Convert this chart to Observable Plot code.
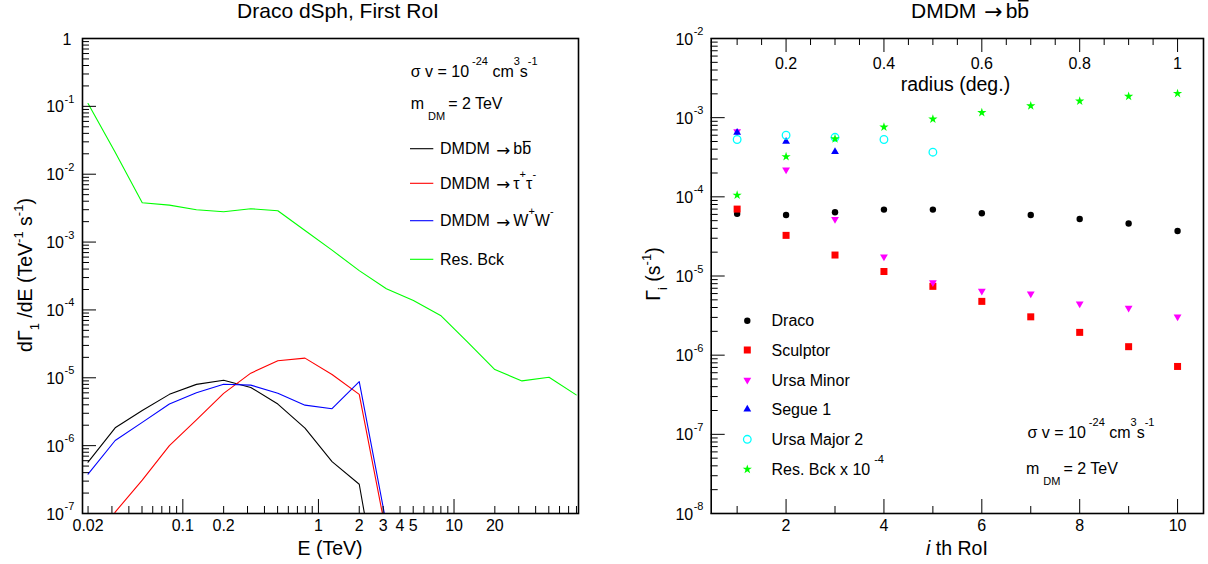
<!DOCTYPE html>
<html>
<head>
<meta charset="utf-8">
<script src="https://cdn.jsdelivr.net/npm/d3@7"></script>
<script src="https://cdn.jsdelivr.net/npm/@observablehq/plot@0.6"></script>
<style>
  html, body { margin: 0; padding: 0; background: white; }
  #page { position: relative; width: 1208px; height: 564px; overflow: hidden; background: white; }
  #L { position: absolute; left: 0; top: 0; }
  #R { position: absolute; left: 604px; top: 0; }
  text { white-space: pre; }
</style>
</head>
<body>
<div id="page"><div id="L"></div><div id="R"></div></div>
<script>
// ---------------- DATA ----------------
// Left panel: energy bins (TeV) and differential rates dGamma_1/dE (TeV^-1 s^-1)
const energy = [0.02, 0.0317, 0.0502, 0.0796, 0.126, 0.2, 0.317, 0.502, 0.796, 1.26, 2.0, 3.17, 5.02, 7.96, 12.6, 20.0, 31.7, 50.2, 79.6];
const bbFlux     = [5.7e-7, 1.83e-6, 3.3e-6, 5.7e-6, 8.0e-6, 9.2e-6, 7.2e-6, 4.1e-6, 1.81e-6, 5.8e-7, 2.7e-7, 1.5e-9];
const tautauFlux = [1.0e-8, 1.05e-7, 3.1e-7, 1.0e-6, 2.4e-6, 5.9e-6, 1.17e-5, 1.78e-5, 1.95e-5, 1.12e-5, 5.7e-6, 5.0e-8];
const wwFlux     = [3.8e-7, 1.19e-6, 2.2e-6, 4.1e-6, 6.0e-6, 8.05e-6, 7.8e-6, 5.9e-6, 3.95e-6, 3.5e-6, 8.8e-6, 7.0e-8];
const bckFlux    = [0.11, 0.021, 0.0038, 0.0035, 0.0030, 0.0028, 0.0031, 0.0029, 0.00148, 0.00076, 0.00038, 0.000205, 0.000138, 8.3e-5, 3.35e-5, 1.32e-5, 9.0e-6, 1.02e-5, 5.6e-6];

// Right panel: i-th RoI and rates Gamma_i (s^-1)
const roi        = [1, 2, 3, 4, 5, 6, 7, 8, 9, 10];
const draco      = [6.1e-5, 5.9e-5, 6.4e-5, 6.9e-5, 6.9e-5, 6.2e-5, 5.9e-5, 5.25e-5, 4.6e-5, 3.7e-5];
const sculptor   = [7.0e-5, 3.26e-5, 1.84e-5, 1.14e-5, 7.4e-6, 4.78e-6, 3.05e-6, 1.94e-6, 1.28e-6, 7.2e-7];
const ursaMinor  = [6.7e-4, 2.2e-4, 5.2e-5, 1.75e-5, 8.3e-6, 6.45e-6, 5.97e-6, 4.47e-6, 3.93e-6, 3.05e-6];
const segue1     = [6.5e-4, 5.0e-4, 3.7e-4];
const ursaMajor2 = [5.3e-4, 6.0e-4, 5.65e-4, 5.3e-4, 3.66e-4];
const resBck     = [1.05e-4, 3.22e-4, 5.4e-4, 7.6e-4, 9.6e-4, 1.16e-3, 1.41e-3, 1.62e-3, 1.86e-3, 2.02e-3];

// Tick labels
const eTickValues  = [0.02, 0.1, 0.2, 1, 2, 3, 4, 5, 10, 20];
const eTickLabels  = ["0.02", "0.1", "0.2", "1", "2", "3", "4", "5", "10", "20"];
const fluxExps     = [-7, -6, -5, -4, -3, -2, -1];
const rateExps     = [-8, -7, -6, -5, -4, -3, -2];
const roiTicks     = [2, 4, 6, 8, 10];
const radiusLabels = ["0.2", "0.4", "0.6", "0.8", "1"];

// ---------------- HELPERS ----------------
const FONT = "'Liberation Sans', Arial, Helvetica, sans-serif";
const C = {black: "#000000", red: "#ff0000", blue: "#0000ff", green: "#00ff00", magenta: "#ff00ff", cyan: "#00ffff"};

function minorLog(e0, e1) {
  const out = [];
  for (let e = e0; e < e1; e++) for (let k = 2; k <= 9; k++) out.push(k * Math.pow(10, e));
  return out;
}
const triDown = {
  draw(ctx, size) {
    const s3 = Math.sqrt(3);
    const y = -Math.sqrt(size / (s3 * 3));
    ctx.moveTo(0, -y * 2);
    ctx.lineTo(-s3 * y, y);
    ctx.lineTo(s3 * y, y);
    ctx.closePath();
  }
};

// rich text: parts [{t, sup, sub, over, italic, dx, arrow}]
function rich(g, x, y, parts, o = {}) {
  const size = o.size || 16, small = o.small || 11;
  const supShift = o.supShift || 12, subShift = o.subShift || 11;
  const t = g.append("text").attr("x", x).attr("y", y)
    .attr("font-size", size).attr("text-anchor", o.anchor || "start")
    .attr("fill", "black").attr("font-family", FONT);
  if (o.rotate) t.attr("transform", `rotate(-90 ${x} ${y})`);
  let cur = 0;
  const overs = [];
  for (const p of parts) {
    let target = p.sup ? -supShift : p.sub ? subShift : 0;
    if (p.arrow) target = size * 0.08;
    const s = t.append("tspan").text(p.t);
    if (target !== cur) s.attr("dy", target - cur);
    cur = target;
    if (p.sup || p.sub) s.attr("font-size", small);
    if (p.arrow) s.attr("font-family", "'DejaVu Sans', sans-serif").attr("font-size", size * 1.05);
    if (p.dx) s.attr("dx", p.dx);
    if (p.italic) s.attr("font-style", "italic");
    if (p.over) overs.push(s);
  }
  for (const s of overs) {
    const b = s.node().getBBox();
    const ly = y - size * 0.8;
    g.append("line").attr("x1", b.x + 0.5).attr("x2", b.x + b.width - 0.5)
      .attr("y1", ly).attr("y2", ly).attr("stroke", "black").attr("stroke-width", size / 14);
  }
  return t;
}

// ---------------- LEFT PANEL ----------------
const LW = 604, LH = 564, LML = 82, LMR = 26, LMT = 38, LMB = 51;
const LFW = LW - LML - LMR, LFH = LH - LMT - LMB;
const leftRows = energy.map((e, i) => ({e, bb: bbFlux[i], tt: tautauFlux[i], ww: wwFlux[i], bck: bckFlux[i]}));
const eMinor = [0.02,0.03,0.04,0.05,0.06,0.07,0.08,0.09, 0.2,0.3,0.4,0.5,0.6,0.7,0.8,0.9, 2,3,4,5,6,7,8,9, 20,30,40,50,60,70,80];
const eMajor = [0.1, 1, 10];
const fluxMajor = fluxExps.map(e => Math.pow(10, e));

const left = Plot.plot({
  width: LW, height: LH, marginLeft: LML, marginRight: LMR, marginTop: LMT, marginBottom: LMB,
  style: {fontFamily: FONT, fontSize: "16px", background: "white", color: "black", overflow: "visible"},
  x: {type: "log", domain: [0.0182, 82.8], axis: null},
  y: {type: "log", domain: [1e-7, 1], axis: null},
  marks: [
    Plot.line(leftRows, {x: "e", y: "bck", stroke: C.green, strokeWidth: 1.1, clip: true}),
    Plot.line(leftRows, {x: "e", y: "bb", stroke: C.black, strokeWidth: 1.1, clip: true}),
    Plot.line(leftRows, {x: "e", y: "tt", stroke: C.red, strokeWidth: 1.1, clip: true}),
    Plot.line(leftRows, {x: "e", y: "ww", stroke: C.blue, strokeWidth: 1.1, clip: true}),
    // ticks
    Plot.ruleY(minorLog(-7, 0), {insetRight: LFW - 7, stroke: "black", strokeWidth: 1}),
    Plot.ruleY(fluxMajor, {insetRight: LFW - 14, stroke: "black", strokeWidth: 1}),
    Plot.ruleX(eMinor, {insetTop: LFH - 7, stroke: "black", strokeWidth: 1}),
    Plot.ruleX(eMajor, {insetTop: LFH - 14, stroke: "black", strokeWidth: 1}),
    Plot.frame({stroke: "black", strokeWidth: 1.6}),
    // tick labels
    Plot.text(eTickValues, {x: d => d, text: (d, i) => eTickLabels[i], frameAnchor: "bottom", lineAnchor: "middle", dy: 12, fontSize: 16, fill: "black"}),
    Plot.text(fluxMajor, {y: d => d, text: () => "10", frameAnchor: "left", lineAnchor: "middle", textAnchor: "end", dx: -18.5, dy: 1, fontSize: 16, fill: "black"}),
    Plot.text(fluxMajor, {y: d => d, text: (d, i) => String(fluxExps[i]), frameAnchor: "left", lineAnchor: "middle", textAnchor: "start", dx: -18, dy: -7, fontSize: 11, fill: "black"}),
    Plot.text([1], {y: d => d, text: () => "1", frameAnchor: "left", lineAnchor: "middle", textAnchor: "end", dx: -11, dy: 1, fontSize: 16, fill: "black"})
  ]
});
document.getElementById("L").append(left);
const gL = d3.select(left).append("g");

rich(gL, 338, 17.5, [{t: "Draco dSph, First RoI"}], {size: 21, anchor: "middle"});
rich(gL, 330, 555, [{t: "E (TeV)"}], {size: 19.5, anchor: "middle"});
rich(gL, 31.5, 275, [{t: "dΓ"}, {t: "1", sub: true}, {t: " /dE (TeV"}, {t: "-1", sup: true}, {t: " s"}, {t: "-1", sup: true}, {t: ")"}],
     {size: 19.5, small: 13, supShift: 9, subShift: 7, anchor: "middle", rotate: true});

rich(gL, 410.7, 77, [{t: "σ v = 10"}, {t: "-24", sup: true, dx: 3}, {t: " cm"}, {t: "3", sup: true}, {t: "s"}, {t: "-1", sup: true}], {size: 16, small: 11, supShift: 12});
rich(gL, 410.7, 108.5, [{t: "m"}, {t: "DM", sub: true, dx: 4}, {t: "= 2 TeV", dx: 3}], {size: 16, small: 11, subShift: 11});

const leftLegend = [
  {y: 148.7, color: C.black, parts: [{t: "DMDM "}, {t: "→", arrow: true, dx: 2}, {t: "b", dx: 3}, {t: "b", over: true}]},
  {y: 183.3, color: C.red,   parts: [{t: "DMDM "}, {t: "→", arrow: true, dx: 2}, {t: "τ", dx: 3}, {t: "+", sup: true}, {t: "τ"}, {t: "-", sup: true}]},
  {y: 220.7, color: C.blue,  parts: [{t: "DMDM "}, {t: "→", arrow: true, dx: 2}, {t: "W", dx: 3}, {t: "+", sup: true}, {t: "W"}, {t: "-", sup: true}]},
  {y: 259.3, color: C.green, parts: [{t: "Res. Bck"}]}
];
for (const r of leftLegend) {
  gL.append("line").attr("x1", 410).attr("x2", 433.3).attr("y1", r.y).attr("y2", r.y)
    .attr("stroke", r.color).attr("stroke-width", 1.1);
  rich(gL, 440, r.y + 5.6, r.parts, {size: 16, small: 11, supShift: 11});
}

// ---------------- RIGHT PANEL ----------------
const RW = 604, RH = 564, RML = 106.7, RMR = 5, RMT = 38, RMB = 51;
const RFW = RW - RML - RMR, RFH = RH - RMT - RMB;
const rows = (arr) => arr.map((v, i) => ({r: roi[i], v}));
const rateMajor = rateExps.map(e => Math.pow(10, e));
const topTicks = [];
for (let k = 2; k <= 20; k++) topTicks.push(k / 2);   // radius 0.1 .. 1.0 every 0.05 deg

const right = Plot.plot({
  width: RW, height: RH, marginLeft: RML, marginRight: RMR, marginTop: RMT, marginBottom: RMB,
  style: {fontFamily: FONT, fontSize: "16px", background: "white", color: "black", overflow: "visible"},
  x: {type: "linear", domain: [0.47, 10.53], axis: null},
  y: {type: "log", domain: [1e-8, 1e-2], axis: null},
  marks: [
    Plot.ruleY(minorLog(-8, -2), {insetRight: RFW - 7, stroke: "black", strokeWidth: 1}),
    Plot.ruleY(rateMajor, {insetRight: RFW - 14, stroke: "black", strokeWidth: 1}),
    Plot.ruleX(roi.filter(d => d % 2 === 1), {insetTop: RFH - 7, stroke: "black", strokeWidth: 1}),
    Plot.ruleX(roiTicks, {insetTop: RFH - 14, stroke: "black", strokeWidth: 1}),
    Plot.ruleX(topTicks.filter(d => d % 2 !== 0), {insetBottom: RFH - 7, stroke: "black", strokeWidth: 1}),
    Plot.ruleX(roiTicks, {insetBottom: RFH - 14, stroke: "black", strokeWidth: 1}),
    Plot.frame({stroke: "black", strokeWidth: 1.6}),
    // points
    Plot.dot(rows(draco), {x: "r", y: "v", r: 3.2, fill: C.black, symbol: "circle"}),
    Plot.dot(rows(sculptor), {x: "r", y: "v", r: 3.95, fill: C.red, symbol: "square"}),
    Plot.dot(rows(ursaMinor), {x: "r", y: "v", r: 2.9, fill: C.magenta, symbol: triDown}),
    Plot.dot(rows(segue1), {x: "r", y: "v", r: 2.9, fill: C.blue, symbol: "triangle"}),
    Plot.dot(rows(ursaMajor2), {x: "r", y: "v", r: 3.8, fill: "none", stroke: C.cyan, strokeWidth: 1.3, symbol: "circle"}),
    Plot.dot(rows(resBck), {x: "r", y: "v", r: 2.9, fill: C.green, symbol: "star"}),
    // tick labels
    Plot.text(roiTicks, {x: d => d, text: d => String(d), frameAnchor: "bottom", lineAnchor: "middle", dy: 12, fontSize: 16, fill: "black"}),
    Plot.text(roiTicks, {x: d => d, text: (d, i) => radiusLabels[i], frameAnchor: "top", lineAnchor: "middle", dy: 25, fontSize: 16, fill: "black"}),
    Plot.text(rateMajor, {y: d => d, text: () => "10", frameAnchor: "left", lineAnchor: "middle", textAnchor: "end", dx: -18, dy: 1, fontSize: 16, fill: "black"}),
    Plot.text(rateMajor, {y: d => d, text: (d, i) => String(rateExps[i]), frameAnchor: "left", lineAnchor: "middle", textAnchor: "start", dx: -17.5, dy: -7, fontSize: 11, fill: "black"})
  ]
});
document.getElementById("R").append(right);
const gR = d3.select(right).append("g");

rich(gR, 366, 17.5, [{t: "DMDM "}, {t: "→", arrow: true, dx: 2}, {t: "b", dx: 3}, {t: "b", over: true}], {size: 21, anchor: "middle"});
rich(gR, 351.4, 91, [{t: "radius (deg.)"}], {size: 19.5, anchor: "middle"});
rich(gR, 353, 555, [{t: "i", italic: true}, {t: " th RoI"}], {size: 19.5, anchor: "middle"});
rich(gR, 56, 274, [{t: "Γ"}, {t: "i", sub: true}, {t: " (s"}, {t: "-1", sup: true}, {t: ")"}],
     {size: 19.5, small: 13, supShift: 9, subShift: 7, anchor: "middle", rotate: true});

rich(gR, 423.5, 438, [{t: "σ v = 10"}, {t: "-24", sup: true, dx: 3}, {t: " cm"}, {t: "3", sup: true}, {t: "s"}, {t: "-1", sup: true}], {size: 16, small: 11, supShift: 12});
rich(gR, 422, 474, [{t: "m"}, {t: "DM", sub: true, dx: 4}, {t: "= 2 TeV", dx: 3}], {size: 16, small: 11, subShift: 11});

const rightLegend = [
  {y: 320.7, label: [{t: "Draco"}], sym: d3.symbolCircle, size: Math.PI * 3.2 * 3.2, fill: C.black},
  {y: 350.0, label: [{t: "Sculptor"}], sym: d3.symbolSquare, size: Math.PI * 3.95 * 3.95, fill: C.red},
  {y: 380.0, label: [{t: "Ursa Minor"}], sym: triDown, size: Math.PI * 2.9 * 2.9, fill: C.magenta},
  {y: 409.3, label: [{t: "Segue 1"}], sym: d3.symbolTriangle, size: Math.PI * 2.9 * 2.9, fill: C.blue},
  {y: 439.3, label: [{t: "Ursa Major 2"}], sym: d3.symbolCircle, size: Math.PI * 3.8 * 3.8, fill: "none", stroke: C.cyan},
  {y: 469.3, label: [{t: "Res. Bck x 10"}, {t: "-4", sup: true, dx: 4}], sym: d3.symbolStar, size: Math.PI * 2.9 * 2.9, fill: C.green}
];
for (const r of rightLegend) {
  gR.append("path").attr("d", d3.symbol().type(r.sym).size(r.size)())
    .attr("transform", `translate(143.3,${r.y})`)
    .attr("fill", r.fill).attr("stroke", r.stroke || "none").attr("stroke-width", 1.3);
  rich(gR, 167.5, r.y + 5.6, r.label, {size: 16, small: 11, supShift: 12});
}
</script>
</body>
</html>
